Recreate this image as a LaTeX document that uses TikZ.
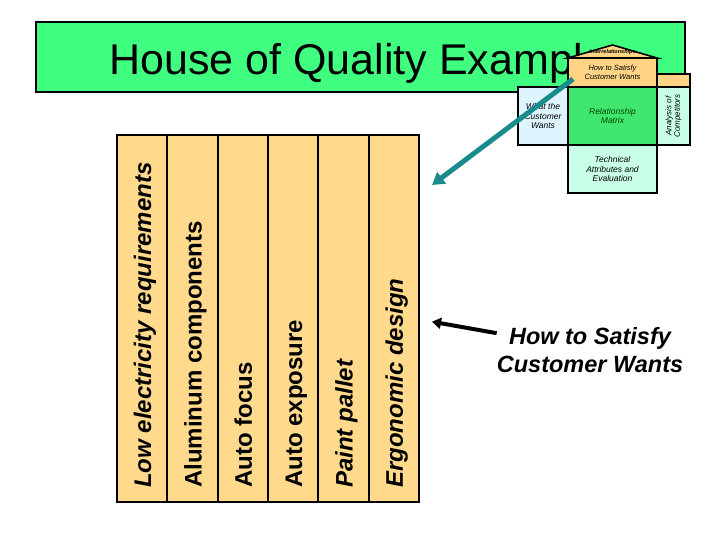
\documentclass[tikz,border=0pt]{standalone}
\usepackage{fontspec}
\setmainfont{Liberation Sans}
\usetikzlibrary{arrows.meta}
\definecolor{titlegreen}{RGB}{64,255,128}
\definecolor{tableorange}{RGB}{255,218,140}
\definecolor{houseorange}{RGB}{255,212,132}
\definecolor{matrixgreen}{RGB}{64,230,112}
\definecolor{wantblue}{RGB}{222,244,255}
\definecolor{mint}{RGB}{200,255,230}
\definecolor{tealc}{RGB}{24,140,140}
\definecolor{darkgreentext}{RGB}{0,70,0}
\begin{document}
\begin{tikzpicture}[x=1pt,y=-1pt,
  titlebox/.style={draw=black, line width=1.4pt, fill=titlegreen, minimum width=649pt, minimum height=70pt, inner sep=0pt, outer sep=0pt},
  titletext/.style={anchor=base, inner sep=0pt, font=\fontsize{43}{50}\selectfont},
  col/.style={draw=black, line width=2pt, fill=tableorange, minimum width=50.33pt, minimum height=367pt, inner sep=0pt, outer sep=0pt},
  coltext/.style={rotate=90, anchor=base west, inner sep=0pt, font=\fontsize{24}{28}\selectfont\bfseries},
  coltextit/.style={coltext, font=\fontsize{24}{28}\selectfont\bfseries\itshape},
  hbox/.style={draw=black, line width=1.6pt, inner sep=0pt, outer sep=0pt, align=center, font=\fontsize{8.5}{9.5}\selectfont\itshape},
  rooftext/.style={inner sep=0pt, font=\fontsize{5.5}{6}\selectfont\bfseries\itshape},
  tealarrow/.style={draw=tealc, line width=5pt, -{Triangle[length=12pt,width=14pt]}},
  blackarrow/.style={draw=black, line width=4pt, -{Triangle[length=9pt,width=11pt]}},
  label/.style={inner sep=0pt, align=center, font=\fontsize{23.5}{28}\selectfont\bfseries\itshape}
]
\useasboundingbox (0,0) rectangle (720,540);
\fill[white] (0,0) rectangle (720,540);

% title
\node[titlebox] (tbox) at (360.5,57) {};
\node[titletext] (title) at (358,75) {House of Quality Example};

% table of technical attributes
\foreach \i in {1,...,6}
  \node[col] (col\i) at ({117+50.333*(\i-0.5)},318.5) {};
\node[coltextit] (t1) at ([xshift=9pt,yshift=14pt]col1.south) {Low electricity requirements};
\node[coltext]   (t2) at ([xshift=9pt,yshift=14pt]col2.south) {Aluminum components};
\node[coltext]   (t3) at ([xshift=9pt,yshift=14pt]col3.south) {Auto focus};
\node[coltext]   (t4) at ([xshift=9pt,yshift=14pt]col4.south) {Auto exposure};
\node[coltextit] (t5) at ([xshift=9pt,yshift=14pt]col5.south) {Paint pallet};
\node[coltextit] (t6) at ([xshift=9pt,yshift=14pt]col6.south) {Ergonomic design};

% house of quality
\node[hbox, fill=houseorange, minimum width=33pt, minimum height=13pt] (strip) at (673.5,80.5) {};
\node[hbox, fill=houseorange, minimum width=89pt, minimum height=29pt, font=\fontsize{7.5}{9}\selectfont\itshape] (how) at (612.5,72.5) {How to Satisfy\\Customer Wants};
\filldraw[draw=black, line width=1.6pt, fill=houseorange, line join=miter] (how.north west) -- (612.5,45) -- (how.north east) -- cycle;
\node[rooftext] (roof) at (612.5,52.5) {Interrelationships};
\node[hbox, fill=wantblue, minimum width=50pt, minimum height=58pt] (want) at (543,116) {What the\\Customer\\Wants};
\node[hbox, fill=matrixgreen, minimum width=89pt, minimum height=58pt, text=darkgreentext] (rel) at (612.5,116) {Relationship\\Matrix};
\node[hbox, fill=mint, rotate=90, minimum width=58pt, minimum height=33pt, font=\fontsize{8}{8.5}\selectfont\itshape] (anal) at (673.5,116) {Analysis of\\Competitors};
\node[hbox, fill=mint, minimum width=89pt, minimum height=48pt] (tech) at (612.5,169) {Technical\\Attributes and\\Evaluation};

% connectors
\coordinate (tealend) at (432,185);
\draw[tealarrow] ([shift={(5,-8)}]how.south west) -- (tealend);

\node[label] (lab) at (590,350.5) {How to Satisfy\\Customer Wants};
\coordinate (blackend) at (432,321.7);
\draw[blackarrow] ([yshift=-5.5pt]lab.north west) -- (blackend);
\end{tikzpicture}
\end{document}
